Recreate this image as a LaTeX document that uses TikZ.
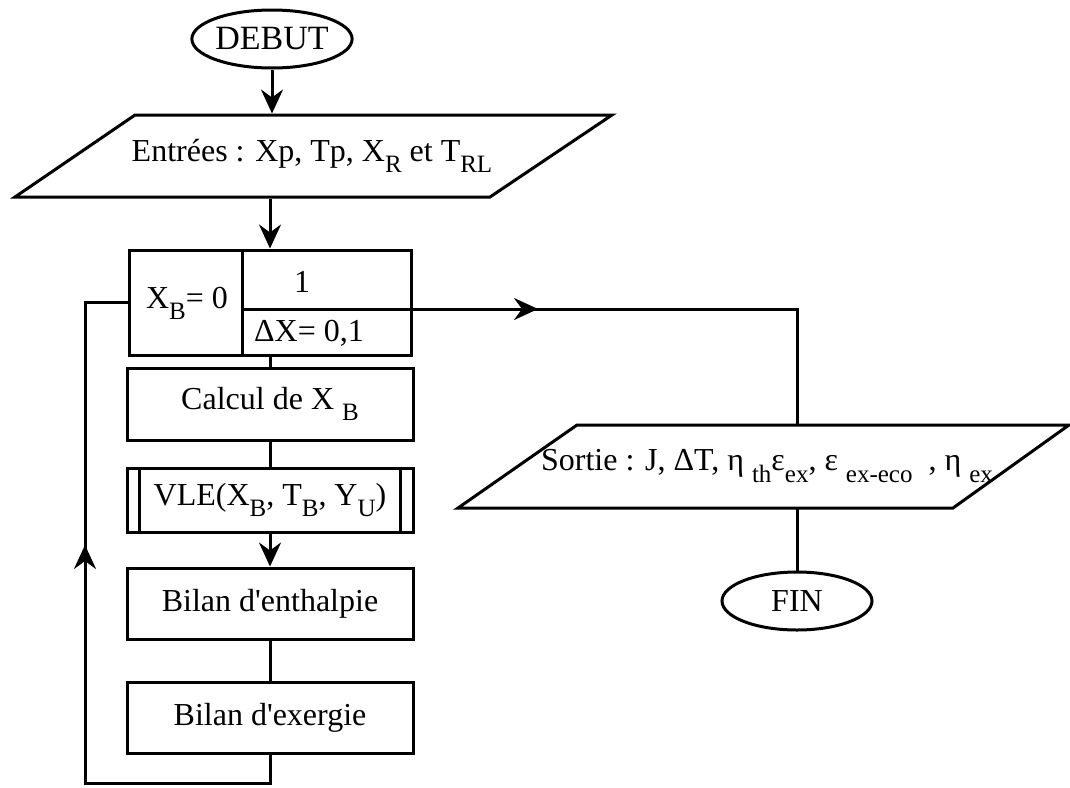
\documentclass[tikz,border=0pt]{standalone}
\usepackage{fontspec}
\setmainfont{Liberation Serif}
\usetikzlibrary{arrows.meta,shapes.geometric}
\newcommand{\sbs}[1]{\raisebox{-0.35em}{\fontsize{12.5}{12.5}\selectfont #1}}

\begin{document}
\begin{tikzpicture}[x=0.5pt, y=-0.5pt,
    >={Stealth[length=12pt,width=11pt,inset=4pt]},
    line width=1.5pt, font=\fontsize{16}{19}\selectfont,
    box/.style={draw, minimum width=143pt, inner sep=0pt},
    term/.style={draw, ellipse, inner sep=0pt},
    io/.style={inner sep=0pt, minimum height=41pt}]
  \useasboundingbox (0,0) rectangle (1070,787);

  \node[term, minimum width=70pt, minimum height=29pt,
    font=\fontsize{17}{20}\selectfont] (debut) at (272,39) {DEBUT};

  \draw (15,197) -- (490,197) -- (612,115) -- (135,115) -- cycle;
  \node[io] (entrees) at (312,156)
    {Entrées : Xp, Tp, X\sbs{R} et T\sbs{RL}};

  % boucle sur X_B
  \node[draw, minimum width=141pt, minimum height=52.5pt] (boucle)
    at (270,302.5) {};
  \draw (242,250) -- (242,355);
  \coordinate (sep) at (412,309);
  \draw (242,309) -- (sep);
  \node (xb) at (187,303) {X\sbs{B}= 0};
  \node (un) at (302,282) {1};
  \node (pas) at (309,333) {ΔX= 0,1};

  \node[box, minimum height=36pt] (calcul) at (270,404)
    {Calcul de X \sbs{B}};
  \node[box, minimum height=32pt] (vle) at (270,500)
    {VLE(X\sbs{B}, T\sbs{B}, Y\sbs{U})};
  \draw ([xshift=7pt]vle.north west) -- ([xshift=7pt]vle.south west);
  \draw ([xshift=-7pt]vle.north east) -- ([xshift=-7pt]vle.south east);
  \node[box, minimum height=35.5pt] (enthalpie) at (270,603.5)
    {Bilan d\textquotesingle enthalpie};
  \node[box, minimum height=35.5pt] (exergie) at (270,717.5)
    {Bilan d\textquotesingle exergie};

  \draw[->] (debut) -- (entrees.north -| debut);
  \draw[->] (entrees.south -| boucle) -- (boucle);
  \draw (boucle) -- (calcul);
  \draw (calcul) -- (vle);
  \draw[->] (vle) -- (enthalpie);
  \draw (enthalpie) -- (exergie);

  % retour
  \coordinate (bas) at (85,783);
  \coordinate (retour) at (85,545);
  \draw (exergie) |- (bas) |- (boucle);
  \draw[->] (bas) -- (retour);

  % sortie
  \draw (458,508) -- (953,508) -- (1069,425) -- (577,425) -- cycle;
  \node[io] (sortie) at (767,466)
    {Sortie : J, ΔT, η\ \sbs{th}ε\sbs{ex}, ε\ \sbs{ex-eco}\ \ , η\ \sbs{ex}};
  \node[term, minimum width=75pt, minimum height=29pt] (fin)
    at (797,601) {FIN};

  \coordinate (fleche) at (538,309);
  \draw (sep) -| (fin |- sortie.north);
  \draw[->] (sep) -- (fleche);
  \draw (fin |- sortie.south) -- (fin);
\end{tikzpicture}
\end{document}
